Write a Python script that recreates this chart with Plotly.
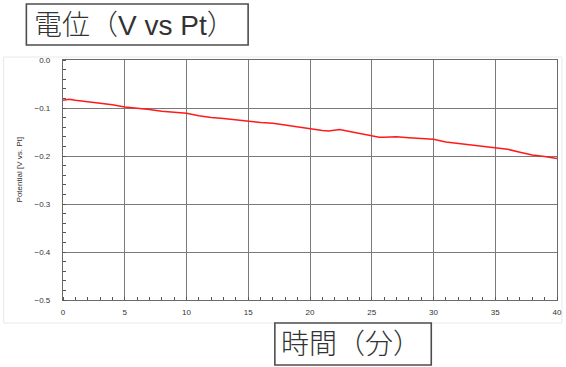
import plotly.graph_objects as go

# Potential trace (minutes, volts vs Pt)
time_min = [0, 0.5, 1, 2, 3, 4, 5, 6, 7, 8, 9, 10, 11, 12, 13, 14, 15, 16, 17,
            18, 19, 20, 21, 21.5, 22.4, 23, 24, 25, 25.6, 26, 27, 28, 29, 30,
            31, 32, 33, 34, 35, 36, 37, 38, 39, 40]
potential_v = [-0.084, -0.082, -0.084, -0.087, -0.089, -0.093, -0.098, -0.100,
               -0.103, -0.107, -0.109, -0.111, -0.116, -0.120, -0.122, -0.125,
               -0.128, -0.130, -0.132, -0.136, -0.139, -0.143, -0.147, -0.148,
               -0.145, -0.148, -0.153, -0.157, -0.161, -0.161, -0.160, -0.162,
               -0.163, -0.165, -0.171, -0.174, -0.176, -0.179, -0.182, -0.186,
               -0.192, -0.198, -0.201, -0.205]

x_ticks = [0, 5, 10, 15, 20, 25, 30, 35, 40]
y_ticks = [0.0, -0.1, -0.2, -0.3, -0.4, -0.5]
y_tick_text = ["0.0", "\u22120.1", "\u22120.2", "\u22120.3", "\u22120.4", "\u22120.5"]

W, H = 566, 367
L, R, T, B = 63, 4, 60, 67
PW, PH = W - L - R, H - T - B


def px(x):
    return (x - L) / PW


def py(y):
    return (H - B - y) / PH


fig = go.Figure()
fig.add_trace(go.Scatter(x=time_min, y=potential_v, mode="lines",
                         line=dict(color="#ff1a1a", width=1.5),
                         showlegend=False, hoverinfo="skip"))

axis_font = dict(family="Liberation Sans, Arial, sans-serif", size=8, color="#333333")

fig.update_xaxes(range=[0, 40], tickvals=x_ticks, showgrid=True,
                 gridcolor="#7a7a7a", gridwidth=1.2,
                 showline=True, linecolor="#6a6a6a", linewidth=1.2, mirror=True,
                 ticks="", tickfont=axis_font, ticklabelstandoff=4,
                 ticklabeloverflow="allow",
                 minor=dict(dtick=1, ticks="inside", ticklen=3,
                            tickcolor="#555555", tickwidth=1, showgrid=False),
                 zeroline=False, fixedrange=True)
fig.update_yaxes(range=[-0.5, 0.0], tickvals=y_ticks, ticktext=y_tick_text,
                 showgrid=True, gridcolor="#7a7a7a", gridwidth=1.2,
                 showline=True, linecolor="#6a6a6a", linewidth=1.2, mirror=True,
                 ticks="", tickfont=axis_font, ticklabelstandoff=10,
                 minor=dict(dtick=0.02, ticks="inside", ticklen=3,
                            tickcolor="#555555", tickwidth=1, showgrid=False),
                 zeroline=False, fixedrange=True)

shapes = [
    # light outer frame of the chart
    dict(type="rect", xref="paper", yref="paper",
         x0=px(3), x1=px(567), y0=py(323), y1=py(57),
         line=dict(color="#e8e8e8", width=1), layer="below"),
    # boxed captions
    dict(type="rect", xref="paper", yref="paper",
         x0=px(26), x1=px(250), y0=py(45), y1=py(4),
         line=dict(color="#4d4d4d", width=1.6), fillcolor="white"),
    dict(type="rect", xref="paper", yref="paper",
         x0=px(277), x1=px(435), y0=py(365), y1=py(323),
         line=dict(color="#4d4d4d", width=1.6), fillcolor="white"),
]

cap_font = dict(family="Liberation Sans, Noto Sans CJK JP, sans-serif",
                size=28, color="#333333", weight=300)
annotations = [
    dict(text="電位（V vs Pt）", xref="paper", yref="paper",
         x=px(32), y=py(25), xanchor="left", yanchor="middle",
         showarrow=False, font=cap_font),
    dict(text="時間（分）", xref="paper", yref="paper",
         x=px(281), y=py(344), xanchor="left", yanchor="middle",
         showarrow=False, font=cap_font),
    dict(text="Potential [V vs. Pt]", xref="paper", yref="paper",
         x=px(19), y=py(170), xanchor="center", yanchor="middle",
         textangle=-90, showarrow=False, font=axis_font),
]

fig.update_layout(width=W, height=H,
                  margin=dict(l=L, r=R, t=T, b=B, pad=0),
                  paper_bgcolor="white", plot_bgcolor="white",
                  shapes=shapes, annotations=annotations)

fig.write_html("out.html")
